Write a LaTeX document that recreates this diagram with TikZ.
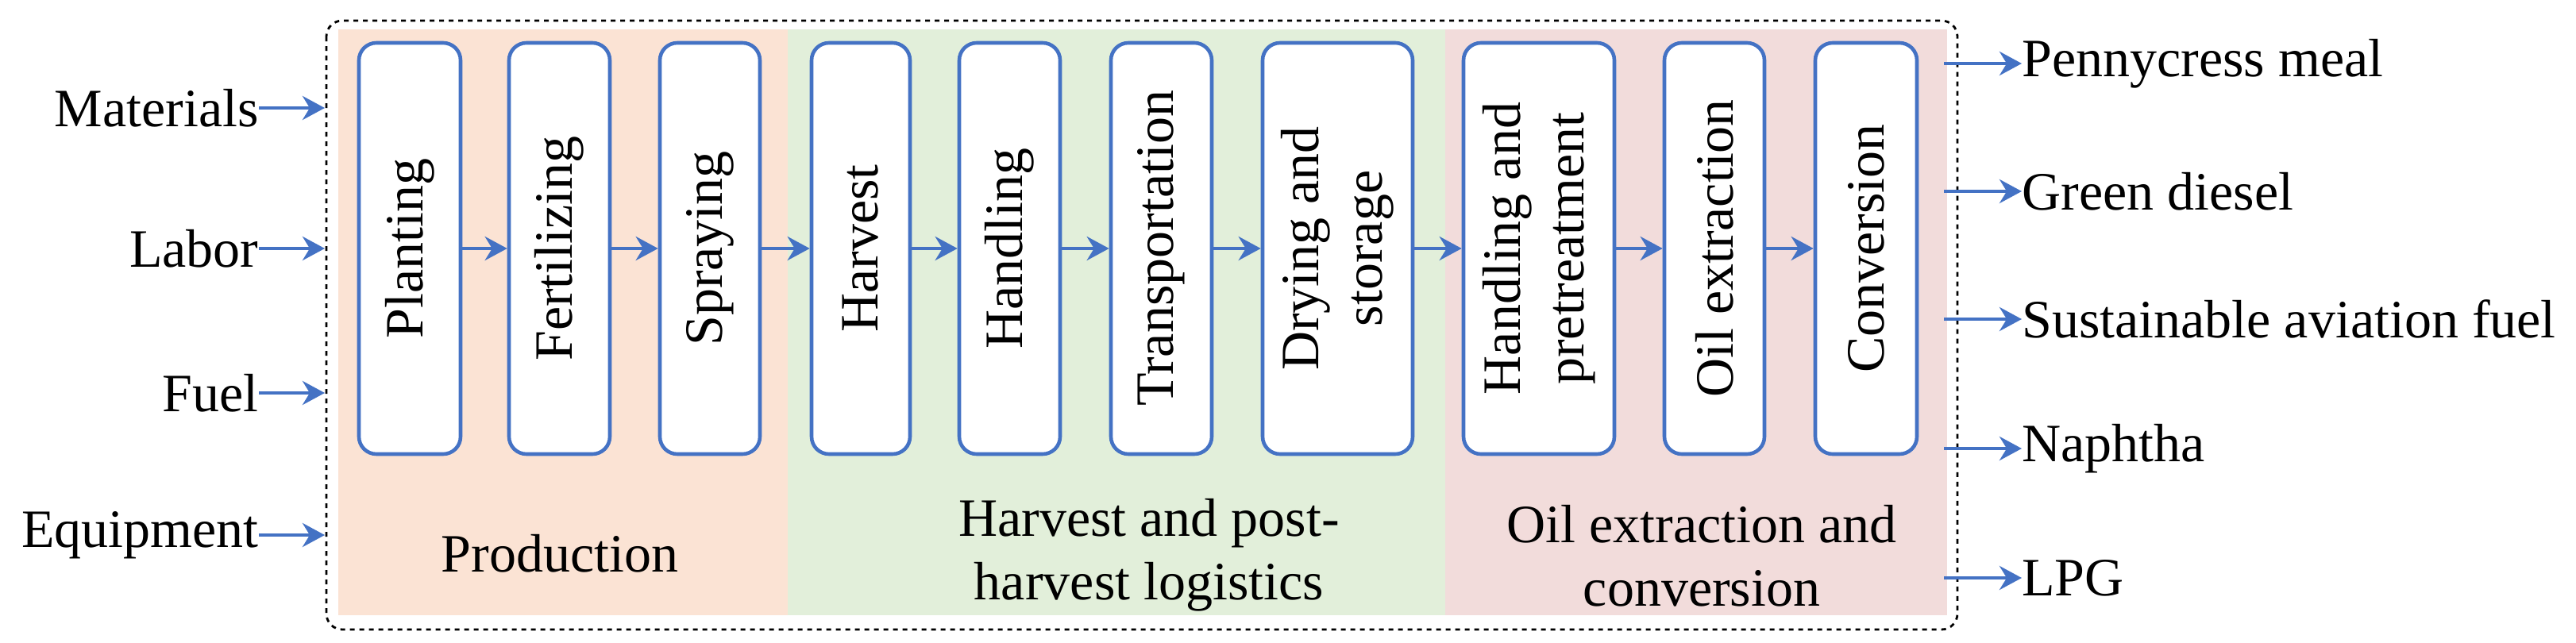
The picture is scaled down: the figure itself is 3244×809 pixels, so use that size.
\documentclass[tikz,border=0pt]{standalone}
\usepackage{fontspec}
\setmainfont{Liberation Serif}
\usetikzlibrary{arrows.meta}
\definecolor{bl}{HTML}{4472C4}
\definecolor{orf}{HTML}{FBE3D4}
\definecolor{grf}{HTML}{E2EFDA}
\definecolor{pkf}{HTML}{F2DCDB}
\tikzset{
 stepbox/.style={draw=bl,line width=2.3pt,rounded corners=11pt,fill=white,minimum height=259pt,inner sep=0pt},
 lbl/.style={font=\fontsize{34}{40}\selectfont},
 vtxt/.style={rotate=90,align=center,font=\fontsize{34}{40}\selectfont},
 flow/.style={draw=bl,line width=2.3pt,-{Stealth[length=14pt,width=15pt]}}
}
\begin{document}
\begin{tikzpicture}[x=0.5pt,y=-0.5pt]
\useasboundingbox (0,0) rectangle (3244,809);
\fill[orf] (426,37) rectangle (992,775);
\fill[grf] (992,37) rectangle (1820,775);
\fill[pkf] (1820,37) rectangle (2452,775);
\draw[dashed,line width=1.4pt,rounded corners=10pt] (411,26) rectangle (2465,793);
\foreach \n/\a/\b in {p1/452/580,p2/641/768,p3/831/957,p4/1022/1146,p5/1208/1335,p6/1399/1526,p7/1590/1779,p8/1843/2033,p9/2096/2222,p10/2286/2414}
 \node[stepbox,minimum width={(\b-\a)*0.5pt}] (\n) at ({(\a+\b)/2},313) {};
\foreach \n/\t in {p1/Planting,p2/Fertilizing,p3/Spraying,p4/Harvest,p5/Handling,p6/Transportation,p7/{Drying and\\storage},p8/{Handling and\\pretreatment},p9/Oil extraction,p10/Conversion}
 \node[vtxt] (\n t) at (\n) {\t};
\foreach \a/\b in {p1/p2,p2/p3,p3/p4,p4/p5,p5/p6,p6/p7,p7/p8,p8/p9,p9/p10}
 \draw[flow] (\a) -- (\b);
\node[lbl] (prod) at (705,697) {Production};
\node[lbl,align=center] (hp) at (1447,699) {Harvest and post-\\harvest logistics};
\node[lbl,align=center] (oe) at (2143,700) {Oil extraction and\\conversion};
\foreach \n/\y/\t in {i1/136/Materials,i2/313/Labor,i3/495/Fuel,i4/674/Equipment}{
 \node[lbl,anchor=east,inner sep=0pt] (\n) at (326,\y) {\t};
 \coordinate (\n e) at (409,\y);
 \draw[flow] (\n) -- (\n e);}
\foreach \n/\y/\t in {o1/80/Pennycress meal,o2/241/Green diesel,o3/402/Sustainable aviation fuel,o4/565/Naphtha,o5/728/LPG}{
 \node[lbl,anchor=west,inner sep=0pt] (\n) at (2546,\y) {\t};
 \coordinate (\n s) at (2448,\y);
 \draw[flow] (\n s) -- (\n);}
\end{tikzpicture}
\end{document}
